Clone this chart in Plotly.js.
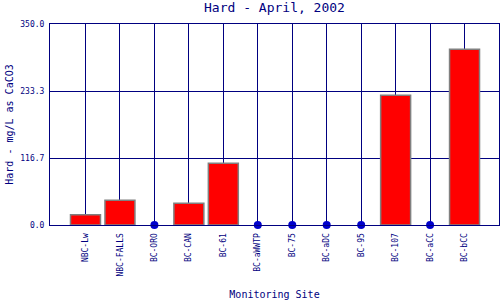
<!DOCTYPE html>
<html>
<head>
<meta charset="utf-8">
<script src="https://cdn.plot.ly/plotly-3.0.1.min.js"></script>
<style>html,body{margin:0;padding:0;background:#fff;}#chart{width:500px;height:300px;}</style>
</head>
<body>
<div id="chart"></div>
<script>
const sites = ["NBC-Lw","NBC-FALLS","BC-ORO","BC-CAN","BC-61","BC-aWWTP","BC-75","BC-aDC","BC-95","BC-107","BC-aCC","BC-bCC"];
const hardness = [18, 43, null, 38, 107.5, null, null, null, null, 226, null, 306];
const yTickVals = [0, 116.667, 233.333, 350];
const yTickText = ["0.0", "116.7", "233.3", "350.0"];

const navy = "#000080";
const font = "DejaVu Sans Mono, Liberation Mono, monospace";

const missingSites = sites.filter((s, i) => hardness[i] === null);
const missingVals = missingSites.map(() => 0);

const traces = [
  {
    type: "bar",
    x: sites,
    y: hardness,
    width: 0.87,
    marker: {color: "#ff0000", line: {color: "#808080", width: 1.5}},
    hoverinfo: "x+y"
  },
  {
    type: "scatter",
    mode: "markers",
    x: missingSites,
    y: missingVals,
    marker: {color: "#0000cc", size: 8},
    cliponaxis: false,
    hoverinfo: "x"
  }
];

const layout = {
  width: 500, height: 300,
  margin: {l: 50, r: 1, t: 24, b: 75, pad: 0},
  paper_bgcolor: "#ffffff",
  plot_bgcolor: "#ffffff",
  showlegend: false,
  font: {family: font, color: navy, size: 8},
  title: {text: "Hard - April, 2002", font: {family: font, size: 13, color: navy}, x: 0.549, xanchor: "center", y: 0.974, yanchor: "middle"},
  xaxis: {
    type: "category",
    categoryorder: "array",
    categoryarray: sites,
    range: [-1.03, 12.0],
    tickangle: -90,
    tickfont: {family: font, size: 8, color: navy},
    showgrid: true, gridcolor: navy, gridwidth: 1,
    showline: true, linecolor: navy, linewidth: 1, mirror: true,
    ticks: "outside", ticklen: 4, tickcolor: "rgba(0,0,0,0)",
    title: {text: "Monitoring Site", font: {family: font, size: 10, color: navy}, standoff: 16},
    fixedrange: true
  },
  yaxis: {
    range: [0, 350],
    tickmode: "array",
    tickvals: yTickVals,
    ticktext: yTickText,
    tickfont: {family: font, size: 8, color: navy},
    showgrid: true, gridcolor: navy, gridwidth: 1,
    zeroline: true, zerolinecolor: navy, zerolinewidth: 1,
    showline: true, linecolor: navy, linewidth: 1, mirror: true,
    ticks: "outside", ticklen: 3, tickcolor: "rgba(0,0,0,0)",
    title: {text: "Hard - mg/L as CaCO3", font: {family: font, size: 10, color: navy}, standoff: 4},
    fixedrange: true
  }
};

Plotly.newPlot("chart", traces, layout, {displayModeBar: false, staticPlot: true});
</script>
</body>
</html>
